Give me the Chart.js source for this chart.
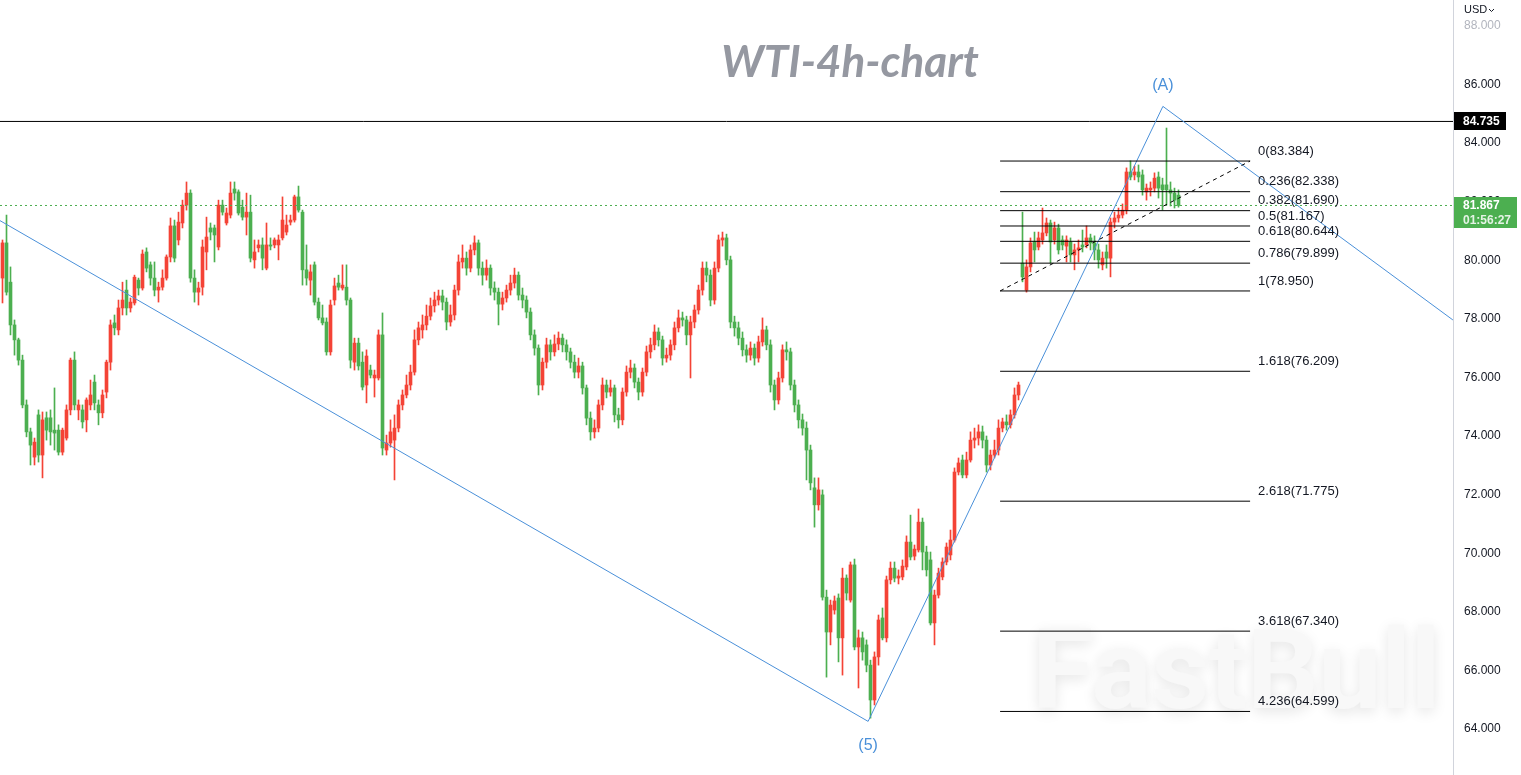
<!DOCTYPE html>
<html>
<head>
<meta charset="utf-8">
<title>WTI-4h-chart</title>
<script src="https://cdn.jsdelivr.net/npm/chart.js@4.4.0/dist/chart.umd.min.js"></script>
<style>
  html, body { margin: 0; padding: 0; background: #fff; overflow: hidden; }
  #wrap { width: 1521px; height: 775px; }
</style>
</head>
<body>
<div id="wrap"><canvas id="chart" width="1521" height="775"></canvas></div>
<script>
// 4h candles, oldest first (prices in USD)
const opens = [
  79.39, 80.59, 79.25, 77.79, 77.28, 76.59, 75.06, 74.14, 73.28, 74.72,
  73.35, 74.62, 74.62, 74.20, 74.20, 73.45, 73.93, 74.89, 76.59, 74.89,
  74.89, 74.55, 75.06, 75.84, 75.06, 74.79, 75.50, 76.52, 77.86, 77.62,
  78.37, 78.98, 78.37, 78.54, 79.32, 79.05, 80.28, 79.84, 79.39, 78.98,
  79.08, 79.39, 80.11, 81.17, 80.69, 81.27, 81.88, 82.29, 79.39, 78.91,
  79.08, 80.28, 81.10, 81.10, 80.45, 81.88, 81.27, 81.54, 82.43, 82.33,
  81.81, 81.47, 81.64, 80.01, 80.42, 80.52, 79.73, 80.52, 80.52, 80.52,
  80.76, 80.96, 81.30, 81.37, 82.16, 81.64, 79.67, 79.32, 79.84, 78.57,
  78.03, 77.89, 76.87, 78.64, 79.22, 79.05, 79.08, 78.64, 76.52, 77.17,
  76.52, 75.74, 76.25, 75.98, 75.98, 77.45, 73.52, 73.76, 73.86, 74.27,
  75.06, 75.40, 75.74, 76.18, 77.28, 77.62, 77.79, 78.09, 78.44, 78.64,
  78.78, 78.57, 77.89, 78.13, 78.98, 79.94, 80.07, 79.73, 80.35, 80.59,
  79.73, 79.49, 79.73, 79.05, 78.91, 78.50, 78.71, 78.98, 79.22, 79.49,
  78.81, 78.64, 78.23, 77.45, 77.00, 75.74, 76.52, 77.11, 76.87, 77.14,
  77.34, 77.11, 76.87, 76.52, 76.18, 76.39, 75.64, 74.61, 74.14, 74.27,
  75.06, 75.74, 75.50, 75.64, 74.72, 74.55, 75.50, 76.18, 76.32, 75.84,
  75.50, 76.18, 76.87, 77.11, 77.55, 77.28, 76.66, 76.76, 77.11, 77.69,
  78.03, 77.96, 77.45, 77.89, 78.30, 78.98, 79.73, 79.49, 78.64, 79.73,
  80.69, 80.76, 80.01, 77.89, 77.69, 77.34, 76.94, 76.76, 77.00, 76.66,
  77.21, 77.62, 77.11, 75.74, 75.23, 75.98, 76.94, 76.87, 75.74, 75.06,
  74.55, 74.27, 73.52, 72.23, 71.65, 71.99, 68.50, 67.31, 68.06, 68.47,
  67.11, 69.15, 68.40, 69.60, 66.80, 67.11, 66.87, 66.18, 64.99, 66.46,
  67.79, 67.11, 69.09, 69.49, 69.15, 69.19, 69.53, 70.38, 69.90, 70.11,
  71.06, 70.04, 69.77, 67.62, 68.57, 69.19, 69.70, 69.94, 70.45, 72.77,
  73.18, 72.67, 73.18, 73.86, 73.93, 74.14, 73.86, 73.01, 73.35, 73.52,
  74.27, 74.48, 74.38, 74.72, 75.40, 79.90, 78.98, 79.77, 80.62, 80.45,
  80.69, 80.93, 81.27, 80.69, 81.10, 80.69, 80.48, 80.62, 80.18, 80.35,
  80.52, 80.52, 80.76, 80.59, 80.35, 79.84, 80.28, 80.07, 81.30, 81.44,
  81.54, 81.71, 83.01, 82.91, 83.01, 82.91, 82.33, 82.40, 82.46, 82.84,
  82.57, 82.57, 82.40, 82.29, 82.22
];
const highs = [
  80.69, 81.54, 79.77, 77.96, 77.34, 76.76, 75.23, 74.27, 73.93, 74.89,
  74.82, 74.82, 74.89, 75.64, 74.38, 74.27, 75.06, 76.66, 76.87, 75.23,
  75.06, 75.30, 75.91, 76.08, 75.23, 75.57, 76.59, 77.96, 78.13, 78.64,
  79.25, 79.32, 78.71, 79.49, 79.39, 80.35, 80.42, 79.94, 79.94, 79.25,
  79.67, 80.18, 81.44, 81.37, 81.64, 82.05, 82.67, 82.40, 79.67, 79.25,
  80.69, 81.47, 81.27, 81.20, 82.05, 82.05, 81.78, 82.67, 82.67, 82.40,
  82.05, 82.29, 82.22, 80.69, 80.69, 80.76, 81.27, 80.76, 80.76, 80.86,
  82.16, 81.54, 81.54, 82.22, 82.53, 81.71, 80.52, 79.84, 79.94, 78.71,
  78.47, 78.03, 78.64, 79.39, 79.49, 79.84, 79.84, 78.71, 77.34, 77.34,
  76.87, 76.94, 76.42, 76.25, 77.62, 78.20, 74.03, 74.55, 74.72, 75.23,
  75.57, 76.08, 76.42, 77.62, 77.89, 78.13, 78.47, 78.71, 78.91, 78.98,
  78.98, 78.71, 78.47, 79.15, 80.18, 80.52, 80.28, 80.52, 80.83, 80.69,
  79.94, 80.01, 79.84, 79.26, 79.05, 78.91, 79.15, 79.49, 79.73, 79.60,
  79.05, 78.78, 78.37, 77.62, 77.11, 76.66, 77.34, 77.28, 77.45, 77.55,
  77.48, 77.28, 77.00, 76.76, 76.66, 76.52, 75.74, 74.82, 74.55, 75.23,
  75.98, 75.91, 75.91, 75.74, 74.95, 75.64, 76.39, 76.59, 76.46, 75.98,
  76.32, 77.07, 77.34, 77.79, 77.69, 77.41, 77.00, 77.28, 77.89, 78.30,
  78.23, 78.09, 78.09, 78.47, 79.15, 79.94, 79.94, 79.67, 79.94, 80.86,
  80.96, 80.89, 80.14, 78.09, 77.89, 77.55, 77.11, 77.21, 77.14, 77.41,
  78.03, 77.75, 77.28, 75.91, 76.18, 77.11, 77.21, 77.00, 75.91, 75.23,
  74.75, 74.48, 73.69, 72.57, 72.57, 72.16, 68.74, 68.40, 68.54, 68.61,
  69.49, 69.26, 69.70, 69.80, 67.38, 67.31, 67.04, 66.35, 66.63, 67.89,
  68.13, 69.22, 69.70, 69.70, 69.43, 69.77, 70.59, 71.30, 70.28, 71.51,
  71.20, 70.24, 70.04, 68.74, 69.49, 69.84, 70.35, 70.79, 72.91, 73.25,
  73.35, 73.45, 74.14, 74.27, 74.38, 74.34, 74.00, 73.52, 73.86, 74.55,
  74.61, 74.72, 74.89, 75.64, 75.84, 81.64, 80.01, 80.76, 80.96, 80.96,
  81.78, 81.44, 81.37, 81.30, 81.23, 80.83, 80.83, 80.76, 80.55, 80.69,
  81.03, 81.17, 80.89, 80.83, 80.55, 80.28, 80.52, 81.44, 81.64, 81.78,
  81.92, 83.15, 83.39, 83.21, 83.25, 83.08, 82.60, 82.67, 82.98, 83.01,
  82.80, 84.51, 82.67, 82.46, 82.40
];
const lows = [
  78.54, 78.81, 77.45, 76.76, 76.42, 74.96, 73.97, 73.01, 73.01, 73.11,
  72.57, 73.86, 73.69, 73.52, 73.35, 73.35, 73.86, 74.72, 74.89, 74.55,
  74.27, 74.14, 74.89, 74.89, 74.38, 74.62, 75.30, 76.25, 77.45, 77.45,
  78.13, 78.13, 78.23, 78.47, 78.81, 78.98, 79.60, 79.15, 78.78, 78.57,
  78.98, 79.32, 79.94, 79.94, 80.52, 81.10, 81.71, 79.25, 78.57, 78.47,
  78.81, 79.67, 80.69, 79.94, 80.35, 81.54, 81.20, 81.44, 82.05, 81.54,
  81.37, 80.86, 79.94, 79.73, 80.28, 79.67, 79.67, 80.35, 80.42, 80.01,
  80.69, 80.86, 81.20, 81.30, 81.64, 79.15, 79.15, 78.81, 78.47, 77.96,
  77.79, 76.76, 76.76, 78.47, 78.98, 78.98, 78.47, 76.32, 76.25, 76.25,
  75.57, 75.13, 75.98, 75.33, 75.91, 73.35, 73.35, 73.62, 72.50, 74.14,
  74.89, 75.30, 75.57, 76.08, 77.11, 77.34, 77.62, 77.96, 78.23, 78.47,
  78.30, 77.62, 77.75, 77.96, 78.81, 79.73, 79.49, 79.60, 80.18, 79.49,
  79.15, 79.32, 78.81, 78.64, 77.79, 78.30, 78.57, 78.81, 79.05, 78.64,
  78.37, 78.03, 77.28, 76.76, 75.40, 75.57, 76.32, 76.59, 76.73, 76.94,
  76.87, 76.59, 76.32, 75.98, 75.98, 75.43, 74.38, 73.86, 73.93, 74.14,
  74.89, 75.30, 75.36, 74.48, 74.27, 74.38, 75.36, 75.98, 75.64, 75.23,
  75.36, 76.05, 76.66, 76.94, 77.07, 76.42, 76.52, 76.59, 76.94, 77.55,
  77.75, 77.11, 75.98, 77.69, 78.16, 78.81, 79.26, 78.44, 78.50, 79.60,
  80.48, 79.84, 77.69, 77.41, 77.11, 76.73, 76.52, 76.59, 76.42, 76.52,
  77.07, 76.94, 75.50, 74.89, 75.09, 75.84, 76.59, 75.57, 74.82, 74.27,
  74.03, 72.50, 72.16, 70.89, 71.47, 68.40, 65.77, 66.87, 67.92, 66.29,
  65.84, 68.40, 68.33, 66.70, 65.40, 66.35, 65.95, 64.37, 64.82, 66.18,
  67.04, 66.97, 68.95, 69.02, 68.95, 69.09, 69.43, 69.77, 69.77, 70.04,
  69.43, 69.22, 67.55, 66.87, 68.47, 69.09, 69.60, 69.77, 70.38, 72.67,
  72.57, 72.57, 73.11, 73.59, 73.69, 73.59, 72.77, 72.84, 73.25, 73.35,
  74.14, 74.20, 74.27, 74.61, 75.23, 79.26, 78.91, 79.60, 79.94, 80.35,
  80.55, 80.83, 79.90, 80.55, 80.21, 80.35, 79.94, 79.94, 79.67, 79.94,
  80.28, 80.42, 80.35, 80.01, 79.73, 79.67, 79.73, 79.43, 81.10, 81.30,
  81.44, 81.58, 82.74, 82.74, 82.67, 82.22, 82.05, 82.19, 82.33, 82.12,
  81.71, 81.88, 81.85, 81.78, 81.81
];
const closes = [
  80.59, 78.91, 77.79, 77.28, 76.59, 75.06, 74.14, 73.69, 73.79, 73.35,
  74.55, 74.20, 74.14, 74.10, 73.45, 74.20, 74.89, 76.59, 75.06, 75.06,
  74.48, 75.23, 75.40, 75.13, 74.79, 75.40, 76.52, 77.79, 77.69, 78.37,
  78.64, 78.37, 78.57, 79.42, 79.05, 80.21, 79.73, 79.39, 78.98, 79.08,
  79.39, 80.11, 81.17, 80.07, 81.30, 81.88, 82.29, 79.39, 78.91, 79.05,
  80.45, 80.79, 80.96, 80.86, 81.88, 81.64, 81.61, 82.29, 82.29, 81.61,
  81.47, 81.64, 80.07, 80.28, 80.52, 80.07, 80.52, 80.48, 80.69, 80.69,
  81.37, 81.20, 81.37, 82.16, 81.71, 79.67, 79.39, 79.60, 78.57, 78.03,
  77.86, 76.87, 78.47, 79.12, 79.08, 79.15, 78.64, 76.59, 77.17, 76.39,
  75.67, 76.73, 76.08, 76.08, 77.45, 73.59, 73.76, 74.14, 74.27, 75.06,
  75.40, 75.74, 76.18, 77.28, 77.69, 77.79, 78.09, 78.44, 78.64, 78.78,
  78.57, 77.89, 78.13, 78.98, 79.94, 80.07, 79.73, 80.35, 80.59, 79.73,
  79.49, 79.73, 79.05, 78.91, 78.50, 78.71, 78.98, 79.22, 79.49, 78.81,
  78.64, 78.23, 77.45, 77.00, 75.74, 76.52, 77.11, 76.87, 77.14, 77.34,
  77.11, 76.87, 76.52, 76.18, 76.39, 75.64, 74.61, 74.14, 74.27, 75.06,
  75.74, 75.50, 75.64, 74.72, 74.55, 75.50, 76.18, 76.32, 75.84, 75.50,
  76.18, 76.87, 77.11, 77.55, 77.28, 76.66, 76.76, 77.11, 77.69, 78.03,
  77.96, 77.45, 77.89, 78.30, 78.98, 79.73, 79.49, 78.64, 79.73, 80.69,
  80.76, 80.01, 77.89, 77.69, 77.34, 76.94, 76.76, 77.00, 76.66, 77.21,
  77.62, 77.11, 75.74, 75.23, 75.98, 76.94, 76.87, 75.74, 75.06, 74.55,
  74.27, 73.52, 72.40, 71.65, 72.16, 68.50, 67.31, 68.23, 68.37, 67.11,
  69.15, 68.64, 69.60, 66.80, 67.11, 66.63, 66.18, 64.99, 66.46, 67.72,
  67.11, 69.09, 69.49, 69.15, 69.22, 69.56, 70.38, 69.87, 70.14, 71.06,
  70.04, 69.43, 67.62, 68.57, 69.32, 69.70, 70.21, 70.45, 72.77, 73.08,
  72.67, 73.18, 73.86, 73.93, 74.14, 73.86, 73.01, 73.35, 73.52, 74.27,
  74.48, 74.38, 74.72, 75.40, 75.74, 79.43, 79.77, 80.59, 80.35, 80.76,
  80.93, 81.27, 80.62, 81.10, 80.35, 80.52, 80.69, 80.18, 80.35, 80.42,
  80.45, 80.76, 80.59, 80.35, 80.01, 80.07, 80.07, 81.30, 81.44, 81.54,
  81.71, 83.01, 82.84, 83.01, 82.84, 82.40, 82.46, 82.46, 82.80, 82.46,
  82.40, 82.40, 82.29, 82.05, 81.867
];

// Fibonacci extension drawn from the (5) low to the (A) high region
const fibRatios = ["0", "0.236", "0.382", "0.5", "0.618", "0.786", "1", "1.618", "2.618", "3.618", "4.236"];
const fibPrices = [83.384, 82.338, 81.690, 81.167, 80.644, 79.899, 78.950, 76.209, 71.775, 67.340, 64.599];
const fibFrom = 249.4;   // bar index where the fib lines start
const fibTo = 311.9;     // bar index where the fib lines end

// Elliott wave trend line: start, (5), (A), end
const waveBars = [-0.625, 216.4, 290.1, 362.6];
const wavePrices = [81.35, 64.26, 85.25, 77.96];
const waveNames = ["", "(5)", "(A)", ""];

const resistance = 84.735;
const lastPrice = 81.867;
const countdown = "01:56:27";
const priceTicks = [64, 66, 68, 70, 72, 74, 76, 78, 80, 82, 84, 86, 88];

const UP = "#f44336";
const DOWN = "#4caf50";
const BLUE = "#4a90d9";
const TEXT = "#131722";
const X_MIN = -0.625, X_MAX = 362.625;

const bars = opens.map((o, i) => i);
const candleColors = bars.map(i => closes[i] >= opens[i] ? UP : DOWN);

const lineSet = (data, color, extra) => Object.assign({
  type: "line", data, borderColor: color, borderWidth: 1,
  pointRadius: 0, fill: false, tension: 0, order: 0
}, extra || {});

const datasets = [];
fibPrices.forEach(p => {
  datasets.push(lineSet([{ x: fibFrom, y: p }, { x: fibTo, y: p }], "#000000"));
});
datasets.push(lineSet([{ x: fibFrom, y: fibPrices[6] }, { x: fibTo, y: fibPrices[0] }], "#000000", { borderDash: [4, 4] }));
datasets.push(lineSet(waveBars.map((b, i) => ({ x: b, y: wavePrices[i] })), BLUE));
datasets.push(lineSet([{ x: X_MIN, y: resistance }, { x: X_MAX, y: resistance }], "#000000"));
datasets.push(lineSet([{ x: X_MIN, y: lastPrice }, { x: X_MAX, y: lastPrice }], DOWN, { borderDash: [2, 3] }));
datasets.push({
  type: "bar", data: bars.map(i => ({ x: i, y: [opens[i], closes[i]] })),
  backgroundColor: candleColors, barThickness: 3, minBarLength: 1, grouped: false, order: 1
});
datasets.push({
  type: "bar", data: bars.map(i => ({ x: i, y: [lows[i], highs[i]] })),
  backgroundColor: candleColors, barThickness: 1, grouped: false, order: 2
});

const overlay = {
  id: "overlay",
  beforeDatasetsDraw(chart) {
    const ctx = chart.ctx;
    ctx.save();
    // watermark
    ctx.font = "bold 112px Roboto";
    ctx.textBaseline = "alphabetic";
    ctx.textAlign = "left";
    ctx.shadowColor = "rgba(0,0,0,0.10)";
    ctx.shadowBlur = 14;
    ctx.shadowOffsetY = 4;
    ctx.fillStyle = "#f8f8f8";
    ctx.fillText("FastBull", 1032, 708);
    ctx.restore();
    ctx.save();
    ctx.font = "italic bold 44px Lato";
    ctx.fillStyle = "#9598a1";
    ctx.textAlign = "center";
    ctx.textBaseline = "middle";
    ctx.fillText("WTI-4h-chart", 850, 63);
    ctx.restore();
  },
  afterDatasetsDraw(chart) {
    const ctx = chart.ctx;
    const xs = chart.scales.x, ys = chart.scales.y;
    ctx.save();
    ctx.font = "13px 'Liberation Sans'";
    ctx.fillStyle = TEXT;
    ctx.textAlign = "left";
    ctx.textBaseline = "middle";
    fibPrices.forEach((p, k) => {
      ctx.fillText(fibRatios[k] + "(" + p.toFixed(3) + ")", xs.getPixelForValue(fibTo) + 8, ys.getPixelForValue(p) - 10);
    });
    ctx.font = "16px 'Liberation Sans'";
    ctx.fillStyle = BLUE;
    ctx.textAlign = "center";
    waveNames.forEach((n, i) => {
      if (!n) return;
      const x = xs.getPixelForValue(waveBars[i]);
      const y = ys.getPixelForValue(wavePrices[i]);
      ctx.fillText(n, x, i === 1 ? y + 24 : y - 21);
    });
    ctx.restore();
  },
  afterDraw(chart) {
    const ctx = chart.ctx;
    const ys = chart.scales.y;
    const left = chart.chartArea.right + 1;
    ctx.save();
    // resistance label
    let y = ys.getPixelForValue(resistance);
    ctx.fillStyle = "#000000";
    ctx.fillRect(left, Math.round(y) - 9, 52, 18);
    ctx.fillStyle = "#ffffff";
    ctx.font = "bold 12px 'Liberation Sans'";
    ctx.textBaseline = "middle";
    ctx.textAlign = "left";
    ctx.fillText(resistance.toFixed(3), left + 9, y + 0.5);
    // last price label
    y = ys.getPixelForValue(lastPrice);
    ctx.fillStyle = DOWN;
    ctx.fillRect(left, Math.round(y) - 8, 63, 31);
    ctx.fillStyle = "#ffffff";
    ctx.fillText(lastPrice.toFixed(3), left + 9, y);
    ctx.fillStyle = "rgba(255,255,255,0.85)";
    ctx.fillText(countdown, left + 9, y + 15);
    // currency
    ctx.fillStyle = TEXT;
    ctx.font = "11px 'Liberation Sans'";
    ctx.fillText("USD", 1464, 10);
    ctx.strokeStyle = TEXT;
    ctx.lineWidth = 1;
    ctx.beginPath();
    ctx.moveTo(1489, 9);
    ctx.lineTo(1491.5, 11.5);
    ctx.lineTo(1494, 9);
    ctx.stroke();
    ctx.restore();
  }
};

new Chart(document.getElementById("chart"), {
  type: "bar",
  data: { datasets },
  options: {
    responsive: false,
    animation: false,
    events: [],
    layout: { padding: 0 },
    plugins: { legend: { display: false }, tooltip: { enabled: false } },
    scales: {
      x: { type: "linear", min: X_MIN, max: X_MAX, offset: false, display: false },
      y: {
        type: "linear",
        position: "right",
        min: 62.43,
        max: 88.88,
        beginAtZero: false,
        grid: { display: false, drawTicks: false },
        border: { display: true, color: "#d1d4dc" },
        afterBuildTicks: s => { s.ticks = priceTicks.map(v => ({ value: v })); },
        afterFit: s => { s.width = 68; s.paddingTop = 0; s.paddingBottom = 0; },
        ticks: {
          padding: 11,
          font: { family: "'Liberation Sans'", size: 12 },
          color: c => c.tick && c.tick.value === 88 ? "#b2b5be" : TEXT,
          callback: v => Number(v).toFixed(3)
        }
      }
    }
  },
  plugins: [overlay]
});
</script>
</body>
</html>
